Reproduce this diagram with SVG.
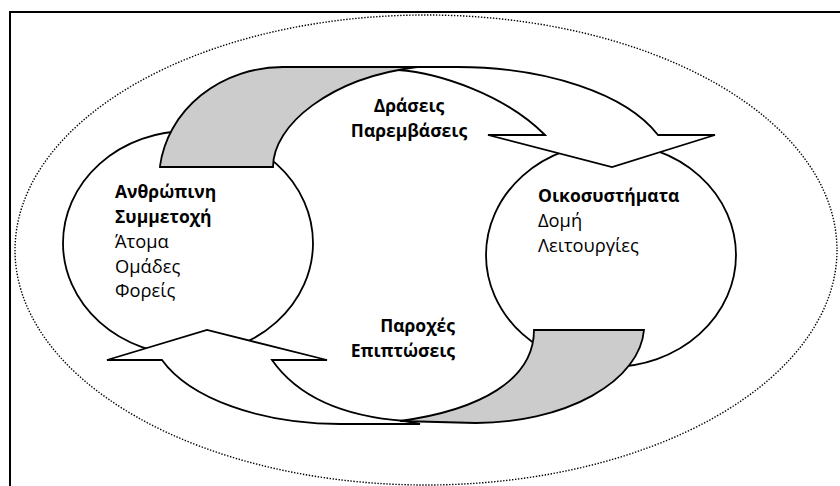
<svg xmlns="http://www.w3.org/2000/svg" width="840" height="486" viewBox="0 0 840 486">
  <defs>
    <style>
      .frame { fill: none; stroke: #000; stroke-width: 2; }
      .env { fill: none; stroke: #000; stroke-width: 1.4; stroke-dasharray: 1.4 1.6; }
      .node { fill: #fff; stroke: #000; stroke-width: 1.8; }
      .band { fill: #fff; stroke: #000; stroke-width: 1.8; stroke-linejoin: miter; }
      .shade { fill: #cccccc; stroke: #000; stroke-width: 1.8; stroke-linejoin: miter; }
      text { font-family: "Open Sans", "Noto Sans", "DejaVu Sans", sans-serif; font-size: 18.3px; fill: #000; }
      .b { font-weight: bold; font-size: 17.5px; }
    </style>
  </defs>
  <rect x="0" y="0" width="840" height="486" fill="#fff"/>
  <path class="frame" d="M10,487 V12 H841"/>
  <ellipse id="environment" class="env" cx="426" cy="250" rx="411" ry="235"/>

  <g id="node-human">
    <ellipse class="node" cx="188" cy="243" rx="125" ry="112"/>
    <text x="115" y="198" class="b">Ανθρώπινη</text>
    <text x="115" y="223" class="b">Συμμετοχή</text>
    <text x="115" y="248">Άτομα</text>
    <text x="115" y="273">Ομάδες</text>
    <text x="115" y="297">Φορείς</text>
  </g>

  <g id="node-ecosystems">
    <ellipse class="node" cx="611" cy="255" rx="125" ry="112"/>
    <text x="538" y="202" class="b">Οικοσυστήματα</text>
    <text x="538" y="227">Δομή</text>
    <text x="538" y="252">Λειτουργίες</text>
  </g>

  <g id="connectors">
    <g id="arrow-actions">
      <path class="band" d="M400,67 L457,67 A214 105 0 0 1 658,135 L715,135 L612,167 L488,135 L545,135 C505,95 440,73 398,70 Z"/>
      <path class="shade" d="M160,167 L160,166 A124 113 0 0 1 283,67 L417,67 C330,78 273,125 273,167 Z"/>
      <text x="409" y="112" class="b" text-anchor="middle">Δράσεις</text>
      <text x="409" y="137" class="b" text-anchor="middle">Παρεμβάσεις</text>
    </g>
    <g id="arrow-provisions">
      <path class="band" d="M420,424 L340,424 A190 98.5 0 0 1 162,360 L107,360 L207,330 L327,360 L272,360 C300,400 350,417 405,421 Z"/>
      <path class="shade" d="M534,330 L644,330 A169 98 0 0 1 476,423 L400,421 C480,410 534,380 534,330 Z"/>
      <text x="455" y="332" class="b" text-anchor="end">Παροχές</text>
      <text x="455" y="357" class="b" text-anchor="end">Επιπτώσεις</text>
    </g>
  </g>
</svg>
